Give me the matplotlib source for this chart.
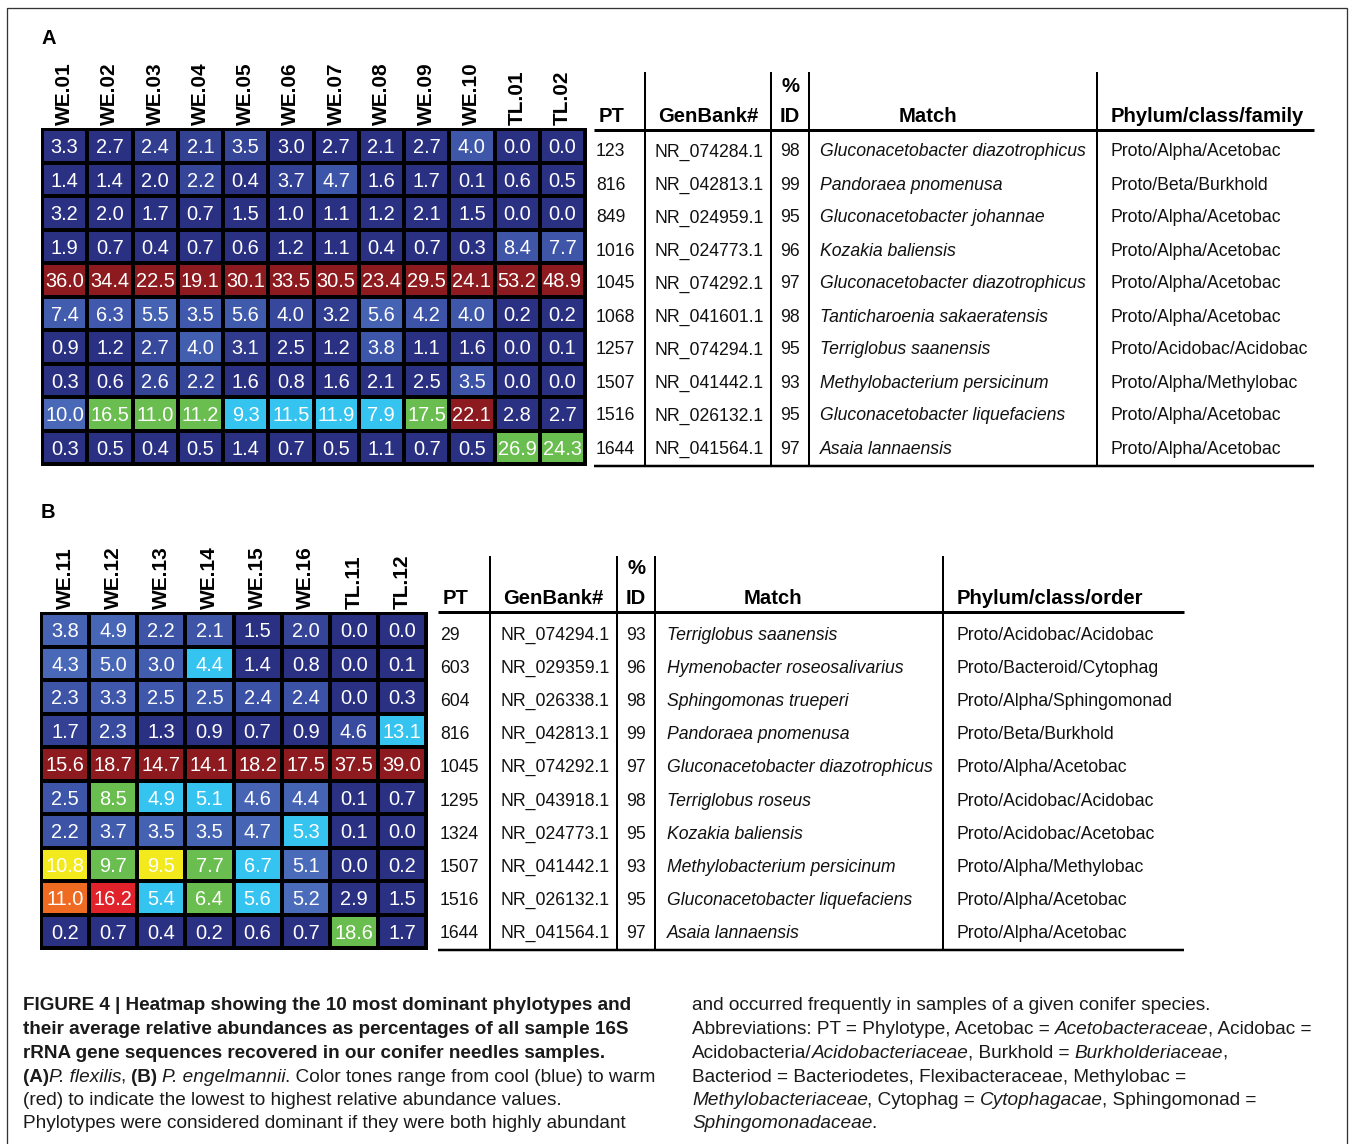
import matplotlib
matplotlib.use('Agg')
import matplotlib.pyplot as plt
import numpy as np
from matplotlib import font_manager
from matplotlib.colors import LinearSegmentedColormap
from matplotlib.patches import Rectangle

# ---------------- data ----------------
samples_a = ['WE.01', 'WE.02', 'WE.03', 'WE.04', 'WE.05', 'WE.06', 'WE.07',
             'WE.08', 'WE.09', 'WE.10', 'TL.01', 'TL.02']
values_a = [
    [3.3, 2.7, 2.4, 2.1, 3.5, 3.0, 2.7, 2.1, 2.7, 4.0, 0.0, 0.0],
    [1.4, 1.4, 2.0, 2.2, 0.4, 3.7, 4.7, 1.6, 1.7, 0.1, 0.6, 0.5],
    [3.2, 2.0, 1.7, 0.7, 1.5, 1.0, 1.1, 1.2, 2.1, 1.5, 0.0, 0.0],
    [1.9, 0.7, 0.4, 0.7, 0.6, 1.2, 1.1, 0.4, 0.7, 0.3, 8.4, 7.7],
    [36.0, 34.4, 22.5, 19.1, 30.1, 33.5, 30.5, 23.4, 29.5, 24.1, 53.2, 48.9],
    [7.4, 6.3, 5.5, 3.5, 5.6, 4.0, 3.2, 5.6, 4.2, 4.0, 0.2, 0.2],
    [0.9, 1.2, 2.7, 4.0, 3.1, 2.5, 1.2, 3.8, 1.1, 1.6, 0.0, 0.1],
    [0.3, 0.6, 2.6, 2.2, 1.6, 0.8, 1.6, 2.1, 2.5, 3.5, 0.0, 0.0],
    [10.0, 16.5, 11.0, 11.2, 9.3, 11.5, 11.9, 7.9, 17.5, 22.1, 2.8, 2.7],
    [0.3, 0.5, 0.4, 0.5, 1.4, 0.7, 0.5, 1.1, 0.7, 0.5, 26.9, 24.3],
]
pt_a = ['123', '816', '849', '1016', '1045', '1068', '1257', '1507', '1516', '1644']
genbank_a = ['NR_074284.1', 'NR_042813.1', 'NR_024959.1', 'NR_024773.1', 'NR_074292.1',
             'NR_041601.1', 'NR_074294.1', 'NR_041442.1', 'NR_026132.1', 'NR_041564.1']
pid_a = [98, 99, 95, 96, 97, 98, 95, 93, 95, 97]
match_a = ['Gluconacetobacter diazotrophicus', 'Pandoraea pnomenusa',
           'Gluconacetobacter johannae', 'Kozakia baliensis',
           'Gluconacetobacter diazotrophicus', 'Tanticharoenia sakaeratensis',
           'Terriglobus saanensis', 'Methylobacterium persicinum',
           'Gluconacetobacter liquefaciens', 'Asaia lannaensis']
taxon_a = ['Proto/Alpha/Acetobac', 'Proto/Beta/Burkhold', 'Proto/Alpha/Acetobac',
           'Proto/Alpha/Acetobac', 'Proto/Alpha/Acetobac', 'Proto/Alpha/Acetobac',
           'Proto/Acidobac/Acidobac', 'Proto/Alpha/Methylobac', 'Proto/Alpha/Acetobac',
           'Proto/Alpha/Acetobac']
headers_a = ['PT', 'GenBank#', '%', 'ID', 'Match', 'Phylum/class/family']

samples_b = ['WE.11', 'WE.12', 'WE.13', 'WE.14', 'WE.15', 'WE.16', 'TL.11', 'TL.12']
values_b = [
    [3.8, 4.9, 2.2, 2.1, 1.5, 2.0, 0.0, 0.0],
    [4.3, 5.0, 3.0, 4.4, 1.4, 0.8, 0.0, 0.1],
    [2.3, 3.3, 2.5, 2.5, 2.4, 2.4, 0.0, 0.3],
    [1.7, 2.3, 1.3, 0.9, 0.7, 0.9, 4.6, 13.1],
    [15.6, 18.7, 14.7, 14.1, 18.2, 17.5, 37.5, 39.0],
    [2.5, 8.5, 4.9, 5.1, 4.6, 4.4, 0.1, 0.7],
    [2.2, 3.7, 3.5, 3.5, 4.7, 5.3, 0.1, 0.0],
    [10.8, 9.7, 9.5, 7.7, 6.7, 5.1, 0.0, 0.2],
    [11.0, 16.2, 5.4, 6.4, 5.6, 5.2, 2.9, 1.5],
    [0.2, 0.7, 0.4, 0.2, 0.6, 0.7, 18.6, 1.7],
]
pt_b = ['29', '603', '604', '816', '1045', '1295', '1324', '1507', '1516', '1644']
genbank_b = ['NR_074294.1', 'NR_029359.1', 'NR_026338.1', 'NR_042813.1', 'NR_074292.1',
             'NR_043918.1', 'NR_024773.1', 'NR_041442.1', 'NR_026132.1', 'NR_041564.1']
pid_b = [93, 96, 98, 99, 97, 98, 95, 93, 95, 97]
match_b = ['Terriglobus saanensis', 'Hymenobacter roseosalivarius', 'Sphingomonas trueperi',
           'Pandoraea pnomenusa', 'Gluconacetobacter diazotrophicus', 'Terriglobus roseus',
           'Kozakia baliensis', 'Methylobacterium persicinum',
           'Gluconacetobacter liquefaciens', 'Asaia lannaensis']
taxon_b = ['Proto/Acidobac/Acidobac', 'Proto/Bacteroid/Cytophag', 'Proto/Alpha/Sphingomonad',
           'Proto/Beta/Burkhold', 'Proto/Alpha/Acetobac', 'Proto/Acidobac/Acidobac',
           'Proto/Acidobac/Acetobac', 'Proto/Alpha/Methylobac', 'Proto/Alpha/Acetobac',
           'Proto/Alpha/Acetobac']
headers_b = ['PT', 'GenBank#', '%', 'ID', 'Match', 'Phylum/class/order']

# caption lines: list of runs (text, weight, style)
caption_left = [
    [('FIGURE 4 | Heatmap showing the 10 most dominant phylotypes and', 'bold', 'normal')],
    [('their average relative abundances as percentages of all sample 16S', 'bold', 'normal')],
    [('rRNA gene sequences recovered in our conifer needles samples.', 'bold', 'normal')],
    [('(A)', 'bold', 'normal'), ('P. flexilis', 'normal', 'italic'), (', ', 'normal', 'normal'),
     ('(B)', 'bold', 'normal'), (' P. engelmannii', 'normal', 'italic'),
     ('. Color tones range from cool (blue) to warm', 'normal', 'normal')],
    [('(red) to indicate the lowest to highest relative abundance values.', 'normal', 'normal')],
    [('Phylotypes were considered dominant if they were both highly abundant', 'normal', 'normal')],
]
caption_right = [
    [('and occurred frequently in samples of a given conifer species.', 'normal', 'normal')],
    [('Abbreviations: PT = Phylotype, Acetobac = ', 'normal', 'normal'),
     ('Acetobacteraceae', 'normal', 'italic'), (', Acidobac =', 'normal', 'normal')],
    [('Acidobacteria/', 'normal', 'normal'), ('Acidobacteriaceae', 'normal', 'italic'),
     (', Burkhold = ', 'normal', 'normal'), ('Burkholderiaceae', 'normal', 'italic'),
     (',', 'normal', 'normal')],
    [('Bacteriod = Bacteriodetes, Flexibacteraceae, Methylobac =', 'normal', 'normal')],
    [('Methylobacteriaceae', 'normal', 'italic'), (', Cytophag = ', 'normal', 'normal'),
     ('Cytophagacae', 'normal', 'italic'), (', Sphingomonad =', 'normal', 'normal')],
    [('Sphingomonadaceae', 'normal', 'italic'), ('.', 'normal', 'normal')],
]

# ---------------- setup ----------------
W, H, DPI = 1349, 1144, 100
fig = plt.figure(figsize=(W / DPI, H / DPI), dpi=DPI)
fig.patch.set_facecolor('white')
renderer = fig.canvas.get_renderer()

names = {f.name for f in font_manager.fontManager.ttflist}
SANS = 'Liberation Sans' if 'Liberation Sans' in names else 'DejaVu Sans'
NARROW = 'Liberation Sans Narrow' if 'Liberation Sans Narrow' in names else SANS


def text_w(s, size, family, weight='normal', style='normal'):
    kw = dict(fontsize=size, family=family, weight=weight, style=style)
    t1 = fig.text(0, 0, 'x' + s + 'x', **kw)
    t2 = fig.text(0, 0, 'xx', **kw)
    w = t1.get_window_extent(renderer).width - t2.get_window_extent(renderer).width
    t1.remove()
    t2.remove()
    return w


def fit(s, target_px, family, weight='normal', style='normal'):
    return 10.0 * target_px / text_w(s, 10, family, weight, style)


PX = 72.0 / DPI  # points per pixel

# overlay axes in pixel coordinates
ov = fig.add_axes([0, 0, 1, 1])
ov.set_xlim(0, W)
ov.set_ylim(H, 0)
ov.axis('off')

# frame
ov.add_patch(Rectangle((7, 8), 1340, 1300, fill=False, edgecolor='#333333', lw=1.3 * PX))

# colormap on column-relative abundance
navy = '#2b3182'
stops = [(0.0, navy), (0.09, navy), (0.13, '#3b51a5'), (0.2999, '#4b6cba'),
         (0.3, '#35c4ef'), (0.4199, '#35c4ef'), (0.42, '#6abd4f'), (0.6199, '#6abd4f'),
         (0.62, '#f3ea1e'), (0.6999, '#f3ea1e'), (0.70, '#ef6b22'), (0.7999, '#ef6b22'),
         (0.80, '#e1222a'), (0.8999, '#e1222a'), (0.90, '#8c1a1e'), (1.0, '#8c1a1e')]
cmap = LinearSegmentedColormap.from_list('abund', stops, N=2048)

num_size = fit('36.0', 39, SANS)
lab_size = fit('WE.01', 63, NARROW, 'bold')


def heatmap(rect_px, values, samples):
    l, t, r, b = rect_px
    ax = fig.add_axes([l / W, 1 - b / H, (r - l) / W, (b - t) / H])
    v = np.array(values, dtype=float)
    rel = v / v.max(axis=0, keepdims=True)
    ax.pcolormesh(rel, cmap=cmap, vmin=0, vmax=1, edgecolors='black', linewidth=2.2 * PX)
    ax.set_xlim(0, v.shape[1])
    ax.set_ylim(v.shape[0], 0)
    ax.set_xticks([])
    ax.set_yticks([])
    for sp in ax.spines.values():
        sp.set_linewidth(3 * PX)
        sp.set_color('black')
    for i in range(v.shape[0]):
        for j in range(v.shape[1]):
            ax.text(j + 0.5, i + 0.5, f'{v[i, j]:.1f}', ha='center', va='center_baseline',
                    color='white', fontsize=num_size, family=SANS)
    for j, s in enumerate(samples):
        ax.annotate(s, xy=(j + 0.5, 0), xytext=(0, 4 * PX), textcoords='offset points',
                    rotation=90, ha='center', va='bottom', fontsize=lab_size,
                    family=NARROW, weight='bold', annotation_clip=False)
    return ax


heatmap((42, 129, 585, 464), values_a, samples_a)
heatmap((41, 613, 426, 948), values_b, samples_b)

# panel letters
ov.text(41, 36, 'A', fontsize=14.5, weight='bold', family=SANS, va='center_baseline', ha='left')
ov.text(41, 510, 'B', fontsize=14.5, weight='bold', family=SANS, va='center_baseline', ha='left')

head_size = fit('Phylum/class/family', 194, NARROW, 'bold')
body_size = fit('NR_074284.1', 109, NARROW)


def table(headers, pts, gbs, pids, matches, taxa, geo):
    (x0, x1, vlines, vtop, hline, bottom, head_y, pct_y,
     hx, bx, row0, pitch) = geo
    ov.plot([x0, x1], [hline, hline], color='black', lw=3 * PX, solid_capstyle='butt')
    ov.plot([x0, x1], [bottom, bottom], color='black', lw=2.5 * PX, solid_capstyle='butt')
    for x in vlines:
        ov.plot([x, x], [vtop, bottom], color='black', lw=2 * PX, solid_capstyle='butt')
    hk = dict(fontsize=head_size, family=NARROW, weight='bold', va='center_baseline')
    ov.text(hx[0], head_y, headers[0], ha='left', **hk)
    ov.text(hx[1], head_y, headers[1], ha='center', **hk)
    ov.text(hx[2], pct_y, headers[2], ha='center', **hk)
    ov.text(hx[2], head_y, headers[3], ha='center', **hk)
    ov.text(hx[3], head_y, headers[4], ha='center', **hk)
    ov.text(hx[4], head_y, headers[5], ha='left', **hk)
    bk = dict(fontsize=body_size, family=NARROW, va='center_baseline', color='#111111')
    for i in range(len(pts)):
        y = row0 + i * pitch
        ov.text(bx[0], y, pts[i], ha='left', **bk)
        ov.text(bx[1], y, gbs[i], ha='left', **bk)
        ov.text(bx[2], y, str(pids[i]), ha='center', **bk)
        ov.text(bx[3], y, matches[i], ha='left', style='italic', **bk)
        ov.text(bx[4], y, taxa[i], ha='left', **bk)


table(headers_a, pt_a, genbank_a, pid_a, match_a, taxon_a,
      (594, 1314, [645, 771, 809, 1097], 72, 130, 466, 114, 84,
       [599, 708, 790, 928, 1111], [596, 655, 790, 820, 1111], 150, 33.0))
table(headers_b, pt_b, genbank_b, pid_b, match_b, taxon_b,
      (438, 1184, [490, 617, 655, 943], 556, 612, 950, 597, 567,
       [443, 553, 636, 773, 957], [440, 500, 636, 667, 957], 633, 33.2))

# caption
cap_bold = fit(caption_left[0][0][0], 610, NARROW, 'bold')
cap_reg = fit(caption_left[5][0][0], 609, NARROW)
space_w = text_w(' ', cap_reg, NARROW)


def draw_runs(x, y, parts):
    for s, weight, style in parts:
        size = cap_bold if weight == 'bold' else cap_reg
        core = s.strip()
        lead = len(s) - len(s.lstrip())
        trail = len(s) - len(s.rstrip())
        x += lead * space_w
        t = ov.text(x, y, core, fontsize=size, family=NARROW, weight=weight, style=style,
                    ha='left', va='center_baseline', color='#1a1a1a')
        x += t.get_window_extent(renderer).width + trail * space_w
        if style == 'italic':
            x -= 1.0


line_y = [1004, 1027.5, 1051, 1075, 1098.5, 1122]
for y, parts in zip(line_y, caption_left):
    draw_runs(23, y, parts)
for y, parts in zip(line_y, caption_right):
    draw_runs(692, y, parts)

fig.savefig('out.png', dpi=DPI, facecolor='white')
